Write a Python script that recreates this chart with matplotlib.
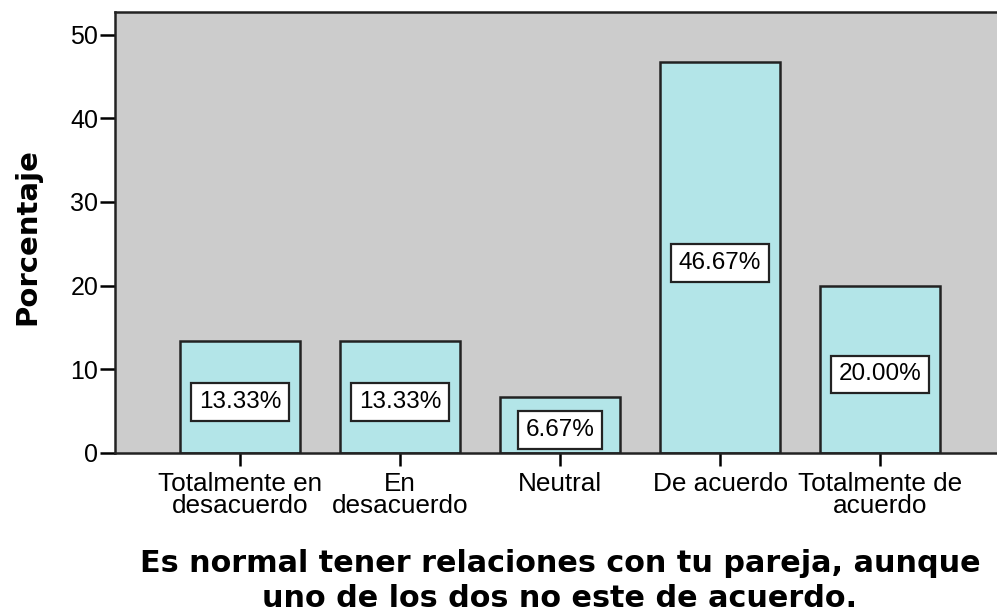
import matplotlib.pyplot as plt
import numpy as np

plt.rcParams['font.family'] = ['Liberation Sans', 'DejaVu Sans']

categorias = ['Totalmente en\ndesacuerdo', 'En\ndesacuerdo', 'Neutral',
              'De acuerdo', 'Totalmente de\nacuerdo']
porcentajes = [13.33, 13.33, 6.67, 46.67, 20.00]
etiquetas = ['13.33%', '13.33%', '6.67%', '46.67%', '20.00%']

fig = plt.figure(figsize=(9.97, 6.11), dpi=100)
ax = fig.add_axes([115/997, 1-453/611, 890/997, 441/611])
ax.set_facecolor('#cccccc')

x = np.arange(len(categorias))
ax.bar(x, porcentajes, width=0.75, color='#b3e5e8', edgecolor='#222222', linewidth=1.8, zorder=2)

for xi, v, t in zip(x, porcentajes, etiquetas):
    ax.text(xi, v/2 - 0.6, t, ha='center', va='center', fontsize=17.5, zorder=3,
            bbox=dict(boxstyle='square,pad=0.32', facecolor='white', edgecolor='#222222', linewidth=1.6))

ax.set_xlim(-0.78, 4.78)
ax.set_ylim(0, 52.7)
ax.set_yticks([0, 10, 20, 30, 40, 50])
ax.set_xticks(x)
ax.set_xticklabels(categorias, fontsize=18.8, linespacing=0.88)
ax.tick_params(axis='y', labelsize=18, length=11, width=1.8, direction='out', pad=1)
ax.tick_params(axis='x', length=9, width=1.8, direction='out', pad=5)
for s in ax.spines.values():
    s.set_linewidth(1.8)
    s.set_color('#222222')

ax.set_ylabel('Porcentaje', fontsize=21, fontweight='bold', family='DejaVu Sans', va='center')
ax.yaxis.set_label_coords(-(115-27)/890, (453-237)/441)
ax.set_xlabel('Es normal tener relaciones con tu pareja, aunque\nuno de los dos no este de acuerdo.',
              fontsize=21.8, fontweight='bold', family='DejaVu Sans', linespacing=1.22, va='center')
ax.xaxis.set_label_coords((560-115)/890, -(581-453)/441)

fig.savefig('out.png', dpi=100)
